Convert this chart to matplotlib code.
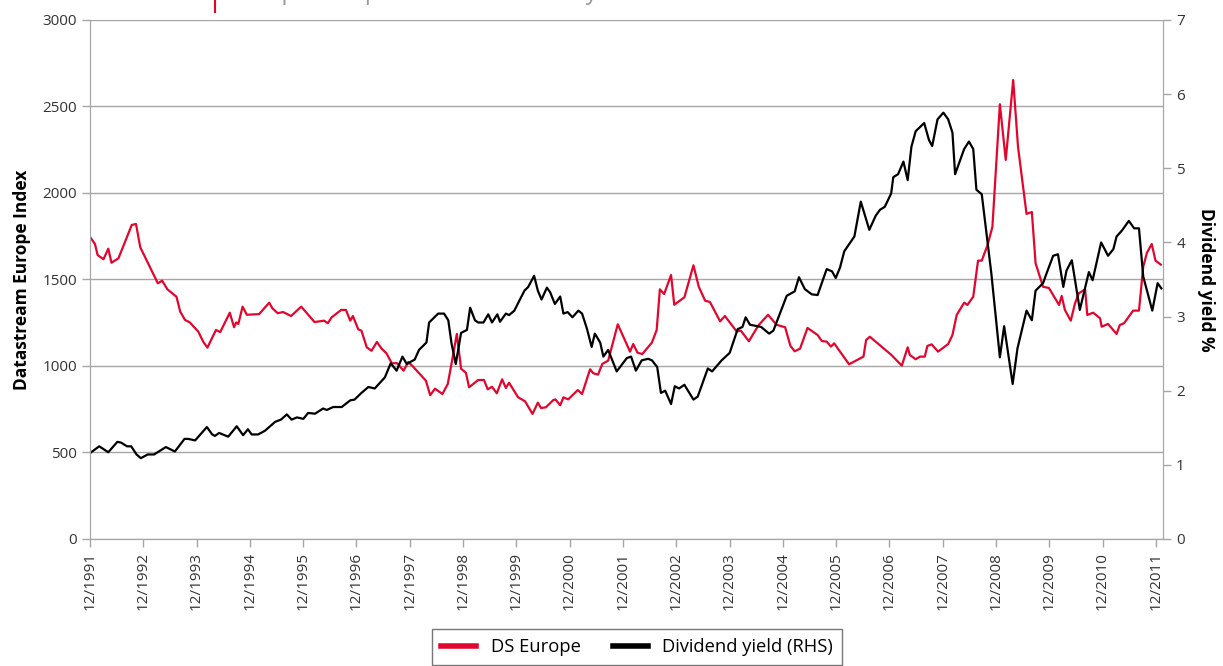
import matplotlib
matplotlib.use("Agg")
import matplotlib.pyplot as plt
from matplotlib.lines import Line2D

plt.rcParams['font.family'] = ['Open Sans', 'DejaVu Sans']

# DS Europe index (left axis), decimal year -> index level
ds_years = [
    1991.92, 1992.01, 1992.06, 1992.17, 1992.26, 1992.32, 1992.45, 1992.70, 1992.78, 1992.86,
    1993.19, 1993.27, 1993.37, 1993.54, 1993.61, 1993.70, 1993.79, 1993.95, 1994.04, 1994.12,
    1994.28, 1994.36, 1994.54, 1994.62, 1994.66, 1994.70, 1994.78, 1994.86, 1995.09, 1995.28,
    1995.34, 1995.44, 1995.54, 1995.69, 1995.88, 1996.13, 1996.31, 1996.38, 1996.45, 1996.63,
    1996.72, 1996.80, 1996.85, 1996.95, 1997.01, 1997.11, 1997.20, 1997.30, 1997.39, 1997.48,
    1997.58, 1997.68, 1997.80, 1997.89, 1997.98, 1998.22, 1998.30, 1998.39, 1998.53, 1998.63,
    1998.69, 1998.80, 1998.88, 1998.97, 1999.03, 1999.20, 1999.31, 1999.38, 1999.46, 1999.55,
    1999.65, 1999.72, 1999.78, 1999.95, 2000.08, 2000.22, 2000.32, 2000.38, 2000.47, 2000.61,
    2000.65, 2000.74, 2000.80, 2000.89, 2001.07, 2001.15, 2001.30, 2001.36, 2001.45, 2001.53,
    2001.64, 2001.82, 2002.05, 2002.11, 2002.19, 2002.28, 2002.46, 2002.55, 2002.61, 2002.69,
    2002.82, 2002.88, 2003.07, 2003.24, 2003.34, 2003.46, 2003.55, 2003.74, 2003.83, 2004.05,
    2004.13, 2004.28, 2004.46, 2004.64, 2004.80, 2004.96, 2005.06, 2005.14, 2005.24, 2005.38,
    2005.57, 2005.65, 2005.74, 2005.82, 2005.88, 2006.16, 2006.43, 2006.48, 2006.55, 2006.95,
    2007.15, 2007.26, 2007.30, 2007.41, 2007.49, 2007.58, 2007.63, 2007.71, 2007.83, 2008.02,
    2008.10, 2008.18, 2008.32, 2008.38, 2008.49, 2008.58, 2008.65, 2008.76, 2008.85, 2008.99,
    2009.10, 2009.24, 2009.33, 2009.49, 2009.59, 2009.66, 2009.80, 2009.91, 2010.10, 2010.15,
    2010.21, 2010.32, 2010.40, 2010.47, 2010.59, 2010.63, 2010.74, 2010.87, 2010.90, 2011.02,
    2011.18, 2011.24, 2011.32, 2011.49, 2011.60, 2011.68, 2011.75, 2011.84, 2011.91, 2012.01,
]
ds_values = [
    1745, 1705, 1641, 1617, 1678, 1597, 1622, 1815, 1821, 1686,
    1478, 1493, 1443, 1400, 1314, 1266, 1252, 1198, 1141, 1106,
    1208, 1196, 1308, 1224, 1252, 1243, 1343, 1296, 1300, 1366,
    1333, 1305, 1312, 1289, 1343, 1254, 1262, 1247, 1281, 1324,
    1324, 1262, 1289, 1212, 1204, 1108, 1088, 1139, 1100, 1073,
    1016, 1016, 973, 1023, 996, 915, 831, 869, 838, 896,
    996, 1185, 984, 961, 877, 919, 919, 865, 880, 842,
    923, 873, 903, 819, 796, 723, 788, 757, 761, 803,
    807, 773, 819, 807, 861, 838, 981, 958, 950, 1012,
    1031, 1241, 1083, 1127, 1077, 1069, 1135, 1208, 1443, 1416,
    1526, 1354, 1397, 1582, 1458, 1377, 1370, 1258, 1289, 1200,
    1204, 1143, 1235, 1296, 1238, 1224, 1116, 1085, 1100, 1220,
    1179, 1144, 1141, 1112, 1131, 1010, 1054, 1150, 1169, 1065,
    1002, 1108, 1064, 1039, 1054, 1054, 1116, 1125, 1083, 1127,
    1179, 1295, 1366, 1353, 1400, 1609, 1609, 1700, 1805, 2513,
    2191, 2653, 2268, 1879, 1890, 1594, 1458, 1451, 1353, 1405,
    1324, 1262, 1362, 1420, 1443, 1295, 1308, 1276, 1227, 1243,
    1185, 1237, 1247, 1320, 1320, 1574, 1655, 1705, 1609, 1586,
]

# Dividend yield % (right axis)
dy_years = [
    1991.92, 1992.09, 1992.26, 1992.43, 1992.50, 1992.61, 1992.69, 1992.79, 1992.87, 1993.00,
    1993.12, 1993.34, 1993.51, 1993.69, 1993.76, 1993.89, 1994.11, 1994.21, 1994.26, 1994.34,
    1994.51, 1994.67, 1994.79, 1994.88, 1994.95, 1995.07, 1995.20, 1995.39, 1995.50, 1995.61,
    1995.70, 1995.80, 1995.92, 1996.01, 1996.14, 1996.29, 1996.36, 1996.48, 1996.64, 1996.80,
    1996.88, 1997.01, 1997.14, 1997.26, 1997.45, 1997.56, 1997.67, 1997.78, 1997.86, 1998.01,
    1998.09, 1998.23, 1998.28, 1998.45, 1998.56, 1998.64, 1998.70, 1998.78, 1998.88, 1998.99,
    1999.05, 1999.14, 1999.20, 1999.30, 1999.39, 1999.46, 1999.56, 1999.61, 1999.72, 1999.78,
    1999.88, 1999.97, 2000.07, 2000.14, 2000.25, 2000.32, 2000.39, 2000.49, 2000.55, 2000.64,
    2000.74, 2000.80, 2000.88, 2000.97, 2001.08, 2001.15, 2001.24, 2001.33, 2001.39, 2001.49,
    2001.55, 2001.64, 2001.80, 2001.99, 2002.07, 2002.16, 2002.27, 2002.39, 2002.46, 2002.56,
    2002.63, 2002.71, 2002.82, 2002.89, 2002.97, 2003.07, 2003.24, 2003.32, 2003.51, 2003.59,
    2003.77, 2003.92, 2004.07, 2004.16, 2004.22, 2004.30, 2004.51, 2004.66, 2004.74, 2004.99,
    2005.14, 2005.22, 2005.33, 2005.46, 2005.57, 2005.74, 2005.84, 2005.91, 2005.99, 2006.07,
    2006.26, 2006.38, 2006.54, 2006.66, 2006.74, 2006.83, 2006.95, 2006.99, 2007.08, 2007.18,
    2007.26, 2007.33, 2007.41, 2007.57, 2007.66, 2007.72, 2007.82, 2007.93, 2008.02, 2008.10,
    2008.15, 2008.32, 2008.41, 2008.49, 2008.55, 2008.65, 2008.76, 2008.83, 2008.99, 2009.07,
    2009.23, 2009.32, 2009.49, 2009.59, 2009.66, 2009.80, 2009.87, 2009.99, 2010.08, 2010.18,
    2010.24, 2010.34, 2010.49, 2010.66, 2010.73, 2010.89, 2011.02, 2011.12, 2011.18, 2011.28,
    2011.41, 2011.51, 2011.60, 2011.68, 2011.85, 2011.95, 2012.02,
]
dy_values = [
    1.16, 1.25, 1.17, 1.31, 1.30, 1.25, 1.25, 1.14, 1.09, 1.14,
    1.14, 1.24, 1.18, 1.35, 1.35, 1.33, 1.51, 1.41, 1.39, 1.43,
    1.38, 1.52, 1.40, 1.48, 1.41, 1.41, 1.46, 1.58, 1.61, 1.68,
    1.61, 1.64, 1.62, 1.70, 1.69, 1.76, 1.74, 1.78, 1.78, 1.87,
    1.88, 1.97, 2.05, 2.03, 2.18, 2.37, 2.27, 2.46, 2.36, 2.42,
    2.55, 2.65, 2.92, 3.04, 3.04, 2.95, 2.64, 2.36, 2.78, 2.82,
    3.12, 2.95, 2.92, 2.92, 3.03, 2.92, 3.03, 2.93, 3.04, 3.02,
    3.08, 3.21, 3.35, 3.40, 3.55, 3.35, 3.23, 3.39, 3.33, 3.17,
    3.27, 3.04, 3.06, 2.99, 3.08, 3.04, 2.84, 2.59, 2.77, 2.65,
    2.46, 2.55, 2.26, 2.44, 2.46, 2.27, 2.41, 2.43, 2.41, 2.32,
    1.97, 2.00, 1.82, 2.06, 2.03, 2.08, 1.88, 1.92, 2.30, 2.26,
    2.41, 2.51, 2.83, 2.86, 2.99, 2.89, 2.86, 2.77, 2.81, 3.28,
    3.34, 3.53, 3.37, 3.30, 3.29, 3.64, 3.61, 3.52, 3.66, 3.88,
    4.08, 4.55, 4.17, 4.36, 4.44, 4.48, 4.66, 4.88, 4.92, 5.09,
    4.84, 5.29, 5.50, 5.61, 5.38, 5.30, 5.66, 5.75, 5.66, 5.48,
    4.92, 5.26, 5.36, 5.26, 4.71, 4.65, 3.99, 3.58, 2.45, 2.87,
    2.09, 2.57, 3.08, 2.95, 3.35, 3.45, 3.59, 3.82, 3.84, 3.40,
    3.62, 3.76, 3.09, 3.60, 3.49, 4.00, 3.82, 3.91, 4.08, 4.16,
    4.29, 4.19, 4.19, 3.54, 3.08, 3.45, 3.38,
]

tick_years = [1991.917 + k for k in range(21)]
tick_labels = ["12/%d" % (1991 + k) for k in range(21)]

red = "#e2062f"
grey = "#a6a6a6"
text_col = "#333333"

fig = plt.figure(figsize=(12.23, 6.66), dpi=100)
ax = fig.add_axes([0.0736, 0.1907, 0.8773, 0.7793])
ax2 = ax.twinx()

ax.plot(ds_years, ds_values, color=red, lw=1.6, label="DS Europe")
ax2.plot(dy_years, dy_values, color="black", lw=1.6, label="Dividend yield (RHS)")

ax.set_xlim(1991.917, 2012.05)
ax.set_ylim(0, 3000)
ax2.set_ylim(0, 7)
ax.set_yticks(range(0, 3001, 500))
ax2.set_yticks(range(0, 8))
ax.set_xticks(tick_years)
ax.set_xticklabels(tick_labels, rotation=90)

ax.grid(axis="y", color=grey, lw=1)
ax.set_axisbelow(True)

for a in (ax, ax2):
    for s in a.spines.values():
        s.set_color(grey)
    a.spines["top"].set_visible(False)
    a.tick_params(colors=grey, labelcolor=text_col, labelsize=11, length=6, width=1)

ax.set_ylabel("Datastream Europe Index", fontsize=12.5, fontweight="bold", color="black", labelpad=8)
ax2.set_ylabel("Dividend yield %", fontsize=12.5, fontweight="bold", color="black",
               rotation=-90, labelpad=22)

handles = [Line2D([], [], color=red, lw=4), Line2D([], [], color="black", lw=4)]
fig.legend(handles, ["DS Europe", "Dividend yield (RHS)"], loc="upper center",
           bbox_to_anchor=(0.521, 0.0556), ncol=2, fontsize=13.2, frameon=True,
           fancybox=False, edgecolor="#555555", handlelength=1.9, columnspacing=1.75,
           borderpad=0.5, borderaxespad=0)

# cut-off heading remnants at the very top of the picture
fig.text(0.188, 1.001, "European equities and dividend yield", color="#9a9a9a",
         fontsize=17, va="baseline", ha="left")
fig.add_artist(Line2D([0.176, 0.176], [0.982, 1.0], color=red, lw=1.5,
                      transform=fig.transFigure))

fig.savefig("out.png", dpi=100)
